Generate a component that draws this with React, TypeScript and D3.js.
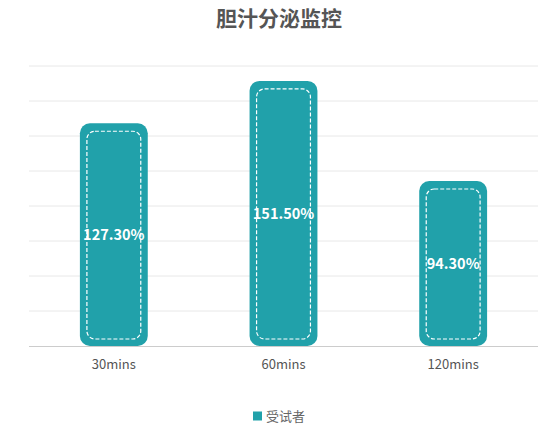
import { useEffect, useRef } from "react"
import * as d3 from "d3"

const categories = ["30mins", "60mins", "120mins"]
const values = [127.3, 151.5, 94.3]
const seriesName = "受试者"
const title = "胆汁分泌监控"
const yTicks = [0, 20, 40, 60, 80, 100, 120, 140, 160]

export default function App() {
  const svgRef = useRef<SVGSVGElement>(null)

  useEffect(() => {
    if (!svgRef.current) return
    const W = 554
    const H = 427
    const margin = { top: 66, right: 16, bottom: 81, left: 29 }
    const width = W - margin.left - margin.right
    const height = H - margin.top - margin.bottom
    const font = "'Noto Sans CJK SC', 'Open Sans', sans-serif"
    const barColor = "#21a1aa"

    const root = d3.select(svgRef.current)
    root.selectAll("*").remove()
    root.attr("width", W).attr("height", H).style("font-family", font)

    // title
    root
      .append("text")
      .attr("x", W / 2 + 2)
      .attr("y", 26)
      .attr("text-anchor", "middle")
      .attr("font-size", 21)
      .attr("font-weight", "bold")
      .attr("fill", "#555")
      .text(title)

    const svg = root.append("g").attr("transform", `translate(${margin.left},${margin.top})`)

    const x = d3.scaleBand().domain(categories).range([0, width]).paddingInner(0.6).paddingOuter(0.3)
    const y = d3.scaleLinear().domain([0, 160]).range([height, 0])

    // grid
    svg
      .selectAll(".grid")
      .data(yTicks.slice(1))
      .enter()
      .append("line")
      .attr("x1", 0)
      .attr("x2", width)
      .attr("y1", (d) => y(d))
      .attr("y2", (d) => y(d))
      .attr("stroke", "#e8e8e8")
      .attr("stroke-width", 1)

    // bars
    const bars = svg
      .selectAll(".bar")
      .data(values)
      .enter()
      .append("g")

    bars
      .append("rect")
      .attr("x", (d, i) => x(categories[i]) || 0)
      .attr("y", (d) => y(d))
      .attr("width", x.bandwidth())
      .attr("height", (d) => height - y(d))
      .attr("rx", 10)
      .attr("fill", barColor)

    const inset = 7
    bars
      .append("rect")
      .attr("x", (d, i) => (x(categories[i]) || 0) + inset)
      .attr("y", (d) => y(d) + inset + 1)
      .attr("width", x.bandwidth() - inset * 2)
      .attr("height", (d) => height - y(d) - inset * 2 - 1)
      .attr("rx", 8)
      .attr("fill", "none")
      .attr("stroke", "#fff")
      .attr("stroke-width", 1.2)
      .attr("stroke-dasharray", "4,2")

    bars
      .append("text")
      .attr("x", (d, i) => (x(categories[i]) || 0) + x.bandwidth() / 2)
      .attr("y", (d) => (y(d) + height) / 2)
      .attr("dy", "0.35em")
      .attr("text-anchor", "middle")
      .attr("font-size", 14.5)
      .attr("font-weight", "bold")
      .attr("fill", "#fff")
      .text((d) => `${d.toFixed(2)}%`)

    // x axis
    svg
      .append("line")
      .attr("x1", 0)
      .attr("x2", width)
      .attr("y1", height + 0.5)
      .attr("y2", height + 0.5)
      .attr("stroke", "#ccc")

    svg
      .selectAll(".xlabel")
      .data(categories)
      .enter()
      .append("text")
      .attr("x", (d) => (x(d) || 0) + x.bandwidth() / 2)
      .attr("y", height + 23)
      .attr("text-anchor", "middle")
      .attr("font-size", 13)
      .attr("fill", "#555")
      .text((d) => d)

    // legend
    const legend = root.append("g").attr("transform", `translate(253,416)`)
    legend.append("rect").attr("x", 0).attr("y", -4.5).attr("width", 9).attr("height", 9).attr("fill", barColor)
    legend
      .append("text")
      .attr("x", 13)
      .attr("y", 0)
      .attr("dy", "0.35em")
      .attr("font-size", 13)
      .attr("fill", "#666")
      .text(seriesName)
  }, [])

  return (
    <div style={{ position: "absolute", left: 0, top: 0 }}>
      <svg ref={svgRef} />
    </div>
  )
}
